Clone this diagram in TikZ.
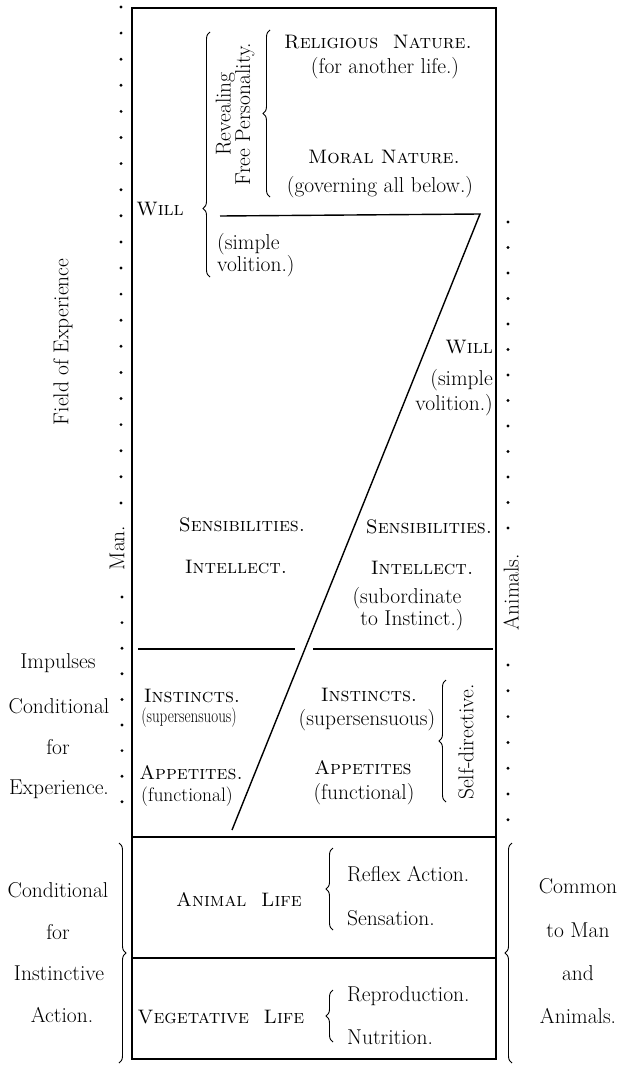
\documentclass[tikz,border=0pt]{standalone}
\usepackage{fontspec}
\usepackage{graphicx}
\usetikzlibrary{decorations.pathreplacing}

\tikzset{
  txt/.style={inner sep=0pt, align=center, font=\fontsize{21.5}{24}\selectfont},
  sctxt/.style={inner sep=0pt, align=center, font=\fontsize{19.5}{22}\scshape},
  narrowtxt/.style={txt, font=\fontsize{19.5}{22}\selectfont},
  brc/.style={decorate, decoration={brace, amplitude=7pt}, line width=0.9pt},
  rule/.style={line width=1.4pt},
  dot/.style={fill=black},
}

\begin{document}
\begin{tikzpicture}[x=1pt, y=-1pt]
            \useasboundingbox (0,0) rectangle (618,1065);
            % frame and divisions
            \draw[rule] (132,8) rectangle (496,1059);
            \draw[rule] (132,837) -- (496,837);
            \draw[rule] (132,958) -- (496,958);
            \draw[line width=2.5pt] (138,649) -- (295,649);
            \draw[line width=2.5pt] (313,649) -- (493,649);
            \coordinate (dtop) at (480,214);
            \coordinate (dbot) at (232,830);
            \draw[rule] (220,216) -- (dtop) -- (dbot);
            % dotted margins
            \foreach \y in {7,33.1,...,505} \fill[dot] (121,\y) circle (1.6pt);
            \foreach \y in {597,622.6,...,804} \fill[dot] (122,\y) circle (1.6pt);
            \foreach \y in {222,247.5,...,531} \fill[dot] (508,\y) circle (1.6pt);
            \foreach \y in {665,690.8,...,823} \fill[dot] (508,\y) circle (1.6pt);
            % side titles
            \node[txt, rotate=90] (field) at (63,342) {Field of Experience};
            \node[txt, rotate=90] (man) at (117,548) {Man.};
            \node[txt, rotate=90] (animals) at (511,592) {Animals.};
            % upper part: man
            \node[sctxt] (will1) at (160,209) {Will};
            \draw[brc, decoration={aspect=0.28}] (210,277) -- (210,32);
            \node[txt, rotate=90, font=\fontsize{21.5}{19.5}\selectfont] (reveal) at (235,114) {Revealing\\Free Personality.};
            \draw[brc] (270,197) -- (270,30);
            \node[sctxt] (relig) at (378,42) {Religious\ \ Nature.};
            \node[txt] (forlife) at (385,68) {(for another life.)};
            \node[sctxt] (moral) at (384,157) {Moral Nature.};
            \node[txt] (govern) at (380,187) {(governing all below.)};
            \node[txt, anchor=west] (simple1) at (217,244) {(simple};
            \node[txt, anchor=west] (volition1) at (217,266) {volition.)};
            % upper part: animals
            \node[sctxt, anchor=east] (will2) at (493,347) {Will};
            \node[txt, anchor=east] (simple2) at (493,380) {(simple};
            \node[txt, anchor=east] (volition2) at (493,405) {volition.)};
            \node[sctxt] (sens1) at (242,525) {Sensibilities.};
            \node[sctxt] (intel1) at (236,567) {Intellect.};
            \node[sctxt] (sens2) at (429,527) {Sensibilities.};
            \node[sctxt] (intel2) at (422,568) {Intellect.};
            \node[txt] (subord) at (407,598) {(subordinate};
            \node[txt] (toinst) at (412,620) {to Instinct.)};
            % impulses
            \node[sctxt] (inst1) at (192,696) {Instincts.};
            \node[narrowtxt] (super1) at (189,718) {\scalebox{0.77}[1]{(supersensuous)}};
            \node[sctxt] (app1) at (191,773) {Appetites.};
            \node[narrowtxt] (func1) at (187,797) {(functional)};
            \node[sctxt] (inst2) at (369,695) {Instincts.};
            \node[txt] (super2) at (367,720) {(supersensuous)};
            \node[sctxt] (app2) at (363,768) {Appetites};
            \node[txt] (func2) at (364,794) {(functional)};
            \draw[brc] (446,802) -- (446,680);
            \node[txt, rotate=90] (selfdir) at (466,742) {Self-directive.};
            \node[txt] (impulses) at (58,663) {Impulses};
            \node[txt] (cond1) at (59,706) {Conditional};
            \node[txt] (for1) at (58,747) {for};
            \node[txt] (exper) at (59,789) {Experience.};
            % lower part, common to both
            \node[sctxt] (animal) at (239,900) {Animal\ \ Life};
            \draw[brc] (333,930) -- (333,848);
            \node[txt, anchor=west] (reflex) at (347,874) {Reflex Action.};
            \node[txt, anchor=west] (sensation) at (347,918) {Sensation.};
            \node[sctxt] (veget) at (221,1017) {Vegetative\ \ Life};
            \draw[brc] (333,1042) -- (333,990);
            \node[txt, anchor=west] (reprod) at (347,996) {Reproduction.};
            \node[txt, anchor=west] (nutrit) at (347,1037) {Nutrition.};
            \draw[brc] (119,843) -- (119,1063);
            \node[txt] (cond2) at (58,890) {Conditional};
            \node[txt] (for2) at (58,932) {for};
            \node[txt] (instinct) at (59,973) {Instinctive};
            \node[txt] (action) at (62,1015) {Action.};
            \draw[brc] (512,1063) -- (512,843);
            \node[txt] (common) at (578,886) {Common};
            \node[txt] (toman) at (578,930) {to Man};
            \node[txt] (and) at (578,973) {and};
            \node[txt] (animals2) at (578,1016) {Animals.};
        \end{tikzpicture}
\end{document}
